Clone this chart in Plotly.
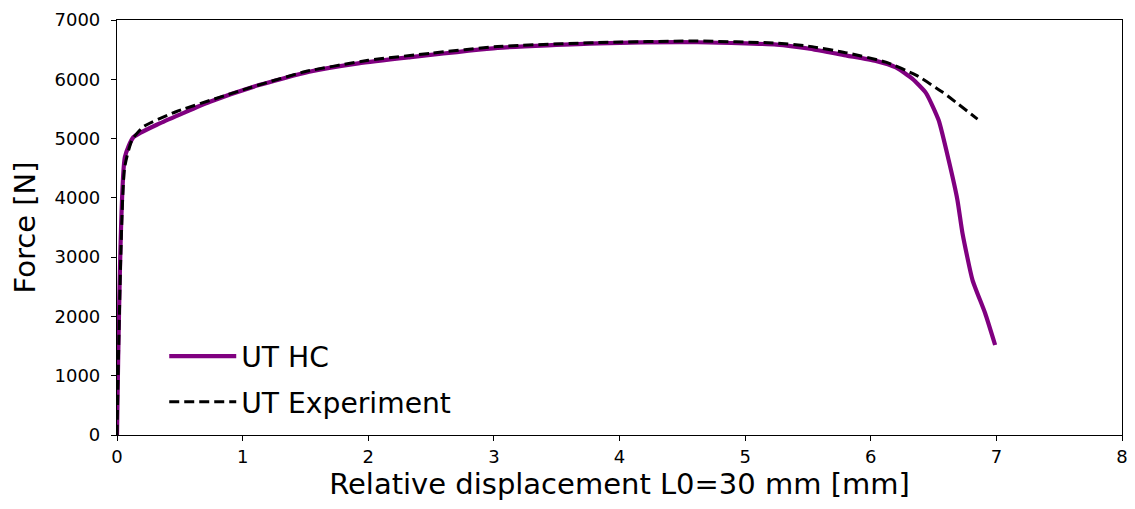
import plotly.graph_objects as go

# UT HC (simulation) curve
hc_x = [0, 0.063, 0.13, 0.34, 0.74, 1.13, 1.53, 1.92, 2.32, 3.03, 3.83, 4.62, 5.25, 5.5, 5.81,
        6.04, 6.2, 6.33, 6.44, 6.54, 6.62, 6.69, 6.73, 6.81, 6.91, 6.99]
hc_y = [0, 4690, 5022, 5256, 5620, 5902, 6127, 6268, 6369, 6530, 6605, 6625, 6585, 6520, 6400,
        6310, 6200, 6010, 5767, 5312, 4637, 3963, 3406, 2614, 2057, 1518]

# UT Experiment curve
exp_x = [0, 0.06, 0.12, 0.21, 0.47, 1.0, 1.5, 2.0, 2.5, 3.03, 3.83, 4.62, 5.25, 5.5, 5.81,
         6.12, 6.36, 6.57, 6.85]
exp_y = [0, 4500, 4980, 5200, 5452, 5820, 6130, 6320, 6440, 6553, 6620, 6645, 6610, 6560, 6445,
         6290, 6071, 5784, 5329]

x_ticks = [0, 1, 2, 3, 4, 5, 6, 7, 8]
y_ticks = [0, 1000, 2000, 3000, 4000, 5000, 6000, 7000]

font = "DejaVu Sans"

fig = go.Figure()
fig.add_trace(go.Scatter(x=hc_x, y=hc_y, mode="lines", name="UT HC", legendgroup="a",
                         line=dict(color="#800080", width=4.2, shape="spline", smoothing=0.5)))
fig.add_trace(go.Scatter(x=exp_x, y=exp_y, mode="lines", name="UT Experiment", legendgroup="b",
                         line=dict(color="black", width=3, dash="10px,5px", shape="spline", smoothing=0.5)))

axis_common = dict(showgrid=False, zeroline=False, showline=True, linecolor="black", linewidth=1.2,
                   mirror=True, ticks="outside", ticklen=5, tickwidth=1.2, tickcolor="black",
                   ticklabeloverflow="allow", automargin=False,
                   tickfont=dict(family=font, size=18, color="black"))

fig.update_xaxes(range=[0, 8], tickvals=x_ticks,
                 title=dict(text="Relative displacement L0=30 mm [mm]",
                            font=dict(family=font, size=29, color="black"), standoff=17),
                 **axis_common)
fig.update_yaxes(range=[0, 7000], tickvals=y_ticks, ticklabelstandoff=7,
                 title=dict(text="Force [N]", font=dict(family=font, size=29, color="black"), standoff=10),
                 **axis_common)

fig.update_layout(
    width=1119, height=493,
    margin=dict(l=109, r=5, t=12, b=66),
    paper_bgcolor="white", plot_bgcolor="white",
    font=dict(family=font, color="black"),
    legend=dict(x=0.047, y=0.25, xanchor="left", yanchor="top",
                bgcolor="rgba(0,0,0,0)", borderwidth=0, itemwidth=67, tracegroupgap=6,
                font=dict(family=font, size=28.2, color="black")),
)

fig.write_html("out.html")
